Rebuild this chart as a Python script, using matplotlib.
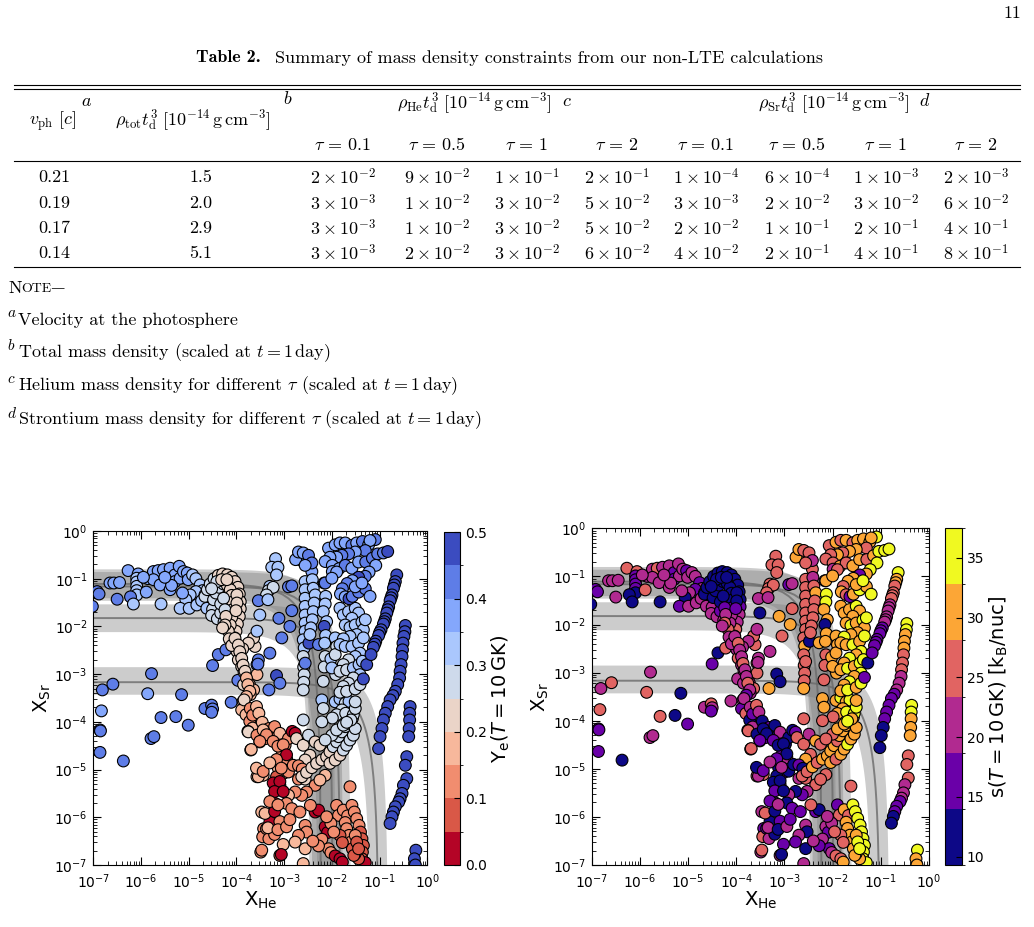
import numpy as np
import matplotlib
matplotlib.use("Agg")
import matplotlib.pyplot as plt
from matplotlib.colors import BoundaryNorm
from matplotlib.lines import Line2D
from matplotlib.ticker import LogLocator, NullFormatter

# ---------------- table data ----------------
vph = ["0.21", "0.19", "0.17", "0.14"]
rho_tot = ["1.5", "2.0", "2.9", "5.1"]
tau_vals = ["0.1", "0.5", "1", "2"]
rho_he_mant = [[2, 9, 1, 2], [3, 1, 3, 5], [3, 1, 3, 5], [3, 2, 3, 6]]
rho_he_exp = [[-2, -2, -1, -1], [-3, -2, -2, -2], [-3, -2, -2, -2], [-3, -2, -2, -2]]
rho_sr_mant = [[1, 6, 1, 2], [3, 2, 3, 6], [2, 1, 2, 4], [4, 2, 4, 8]]
rho_sr_exp = [[-4, -4, -3, -3], [-3, -2, -2, -2], [-2, -1, -1, -1], [-2, -1, -1, -1]]
notes = [("a", r"Velocity at the photosphere"),
         ("b", r"Total mass density (scaled at $t = 1\,{\rm day}$)"),
         ("c", r"Helium mass density for different $\tau$ (scaled at $t = 1\,{\rm day}$)"),
         ("d", r"Strontium mass density for different $\tau$ (scaled at $t = 1\,{\rm day}$)")]

# ---------------- constraint bands (X_Sr, X_He) ----------------
band_sr_lo = [3.7e-4, 7.6e-3, 3.45e-2, 3.9e-2]
band_sr_mid = [6.8e-4, 1.5e-2, 6.9e-2, 7.8e-2]
band_sr_hi = [1.4e-3, 2.9e-2, 1.38e-1, 1.57e-1]
band_he_lo = [0.063, 0.005, 0.0034, 0.0039]
band_he_mid = [0.095, 0.015, 0.0103, 0.0059]
band_he_hi = [0.15, 0.025, 0.017, 0.0118]

# ---------------- trajectories: (log X_He, log X_Sr, Ye, s) ----------------
traj_topleft = [
    (-6.92, -1.27, .42, 15), (-6.88, -1.32, .42, 15), (-7.02, -1.58, .42, 10), (-6.65, -1.09, .37, 20),
    (-6.57, -1.09, .37, 20), (-6.45, -1.08, .37, 20), (-6.50, -1.43, .42, 20), (-6.27, -0.83, .37, 25),
    (-6.06, -0.90, .38, 25), (-6.09, -0.99, .35, 15), (-6.09, -1.07, .35, 15), (-6.09, -1.16, .35, 15),
    (-6.09, -1.25, .35, 15), (-6.09, -1.34, .35, 10), (-6.22, -1.38, .40, 10), (-6.16, -1.53, .33, 10),
    (-5.85, -1.00, .37, 20), (-5.74, -0.85, .37, 20), (-5.64, -0.83, .37, 25), (-5.53, -0.81, .37, 20),
    (-5.74, -1.02, .37, 20), (-5.58, -1.53, .33, 10), (-5.60, -1.13, .37, 20), (-5.39, -1.23, .37, 20),
    (-5.39, -0.78, .37, 20), (-5.29, -0.92, .37, 15), (-5.20, -0.74, .36, 20), (-5.29, -1.06, .36, 15),
    (-5.18, -0.99, .36, 20), (-5.11, -0.85, .36, 20), (-5.03, -0.88, .36, 15), (-5.01, -1.02, .36, 20),
    (-4.92, -0.92, .35, 20), (-4.85, -1.00, .34, 20), (-4.76, -1.13, .33, 15), (-4.71, -1.25, .32, 20),
    (-4.85, -1.27, .34, 15), (-4.97, -1.34, .35, 20), (-5.06, -1.44, .35, 10), (-5.13, -1.30, .36, 20),
    (-5.18, -1.62, .35, 15), (-4.99, -1.62, .34, 20), (-4.83, -1.55, .33, 20), (-4.73, -1.46, .32, 20),
    (-4.62, -1.62, .31, 20), (-4.50, -1.64, .30, 20), (-4.52, -1.77, .30, 20), (-4.40, -1.84, .30, 20),
    (-4.33, -1.72, .30, 15), (-4.26, -1.91, .29, 20), (-4.66, -1.34, .30, 20), (-4.59, -1.23, .29, 20),
    (-5.36, -1.14, .37, 20), (-5.95, -0.97, .37, 20), (-5.50, -0.97, .36, 20), (-5.89, -1.28, .36, 25),
]
traj_hook = [
    (-4.66, -1.37, .28, 10), (-4.61, -1.23, .27, 10), (-4.55, -1.11, .26, 10), (-4.47, -1.00, .25, 10),
    (-4.38, -0.93, .24, 10), (-4.29, -0.90, .23, 10), (-4.19, -0.92, .23, 10), (-4.10, -0.97, .23, 10),
    (-4.03, -1.06, .23, 10), (-3.97, -1.18, .23, 10), (-3.94, -1.32, .22, 10), (-3.92, -1.48, .22, 10),
    (-3.92, -1.63, .22, 15), (-3.94, -1.79, .22, 20), (-3.98, -1.95, .22, 20), (-4.01, -2.10, .22, 25),
    (-4.04, -2.24, .22, 20), (-4.03, -2.38, .21, 25), (-3.99, -2.52, .20, 20),
    (-4.48, -1.44, .28, 10), (-4.43, -1.30, .27, 10), (-4.36, -1.18, .26, 10), (-4.27, -1.11, .25, 10),
    (-4.19, -1.14, .24, 10), (-4.13, -1.23, .24, 10), (-4.10, -1.35, .23, 10), (-4.08, -1.49, .23, 10),
    (-4.08, -1.65, .23, 15), (-4.10, -1.81, .23, 20), (-4.13, -1.97, .22, 20), (-4.17, -2.10, .22, 25),
    (-4.15, -2.26, .22, 20), (-4.10, -2.40, .21, 20),
    (-4.33, -1.53, .28, 10), (-4.27, -1.41, .27, 10), (-4.24, -1.65, .26, 15), (-4.22, -1.79, .24, 20),
    (-4.24, -1.97, .23, 25), (-4.29, -2.03, .24, 20),
    (-4.41, -1.06, .25, 10), (-4.31, -1.02, .24, 10), (-4.20, -1.02, .24, 10), (-4.52, -1.21, .27, 10),
    (-3.99, -1.34, .23, 10), (-3.99, -1.51, .23, 10), (-4.01, -1.67, .22, 15),
]
traj_descent = [
    (-3.96, -2.70, .22, 25), (-3.89, -2.84, .21, 20), (-3.84, -2.96, .20, 20), (-3.78, -3.08, .19, 25),
    (-3.73, -3.21, .18, 20), (-3.64, -3.33, .18, 25), (-3.71, -3.43, .17, 20), (-3.85, -3.22, .21, 20),
    (-3.57, -3.01, .18, 25), (-3.61, -2.42, .22, 25), (-3.64, -2.24, .23, 25), (-3.75, -2.35, .22, 20),
    (-3.87, -2.47, .21, 20), (-4.03, -2.25, .22, 20), (-3.96, -2.39, .22, 25), (-3.93, -2.53, .21, 20),
    (-3.89, -2.67, .21, 20), (-3.86, -2.81, .20, 25), (-3.82, -2.94, .20, 20), (-3.79, -3.08, .19, 20),
    (-3.76, -3.22, .19, 25), (-3.72, -3.36, .18, 20), (-3.79, -3.47, .17, 15), (-3.86, -3.57, .17, 20),
    (-3.89, -3.75, .16, 15), (-3.80, -3.85, .17, 25), (-3.72, -3.99, .15, 10), (-3.66, -4.13, .16, 20),
    (-3.76, -4.20, .20, 25), (-3.84, -3.54, .24, 20), (-3.75, -4.21, .23, 25), (-3.70, -4.59, .18, 25),
    (-3.57, -5.15, .18, 25), (-3.71, -3.72, .14, 20), (-3.66, -3.86, .13, 15), (-3.57, -4.28, .13, 10),
    (-3.47, -5.89, .19, 20), (-3.43, -6.24, .13, 15), (-3.45, -6.41, .13, 25), (-3.49, -6.73, .14, 20),
]
traj_scatter = [
    (-4.38, -2.59, .42, 10), (-4.22, -2.49, .42, 25), (-4.50, -2.82, .42, 15), (-5.78, -2.99, .42, 20),
    (-6.59, -3.21, .42, 25), (-6.81, -3.33, .42, 20), (-5.86, -3.41, .37, 25), (-5.15, -3.43, .42, 10),
    (-3.97, -3.13, .42, 20), (-3.57, -2.80, .42, 25), (-3.54, -2.70, .42, 20), (-6.83, -3.77, .38, 25),
    (-6.86, -4.17, .42, 15), (-6.85, -4.19, .42, 15), (-6.86, -4.64, .42, 15), (-6.37, -4.82, .42, 10),
    (-5.79, -4.35, .42, 20), (-5.73, -4.31, .42, 20), (-5.58, -3.91, .42, 25), (-5.27, -3.89, .42, 10),
    (-5.01, -4.07, .42, 15), (-4.66, -3.72, .42, 20), (-4.52, -3.65, .42, 25), (-4.50, -3.73, .42, 20),
    (-4.52, -3.80, .42, 15), (-4.11, -3.59, .42, 20),
]
traj_upper_right = [
    (-2.07, -0.36, .38, 25), (-1.93, -0.29, .38, 30), (-1.83, -0.25, .36, 25), (-1.72, -0.25, .38, 30),
    (-1.58, -0.30, .40, 25), (-1.48, -0.25, .36, 30), (-1.36, -0.22, .40, 30), (-1.23, -0.29, .38, 30),
    (-1.09, -0.18, .40, 35), (-1.20, -0.20, .36, 30), (-1.30, -0.41, .40, 25), (-1.51, -0.44, .38, 30),
    (-1.65, -0.48, .42, 30), (-1.79, -0.51, .40, 25), (-1.90, -0.55, .36, 30), (-2.04, -0.55, .38, 25),
    (-2.14, -0.64, .37, 25), (-1.99, -0.72, .37, 25), (-1.85, -0.79, .36, 30), (-1.72, -0.72, .40, 25),
    (-1.58, -0.78, .38, 30), (-1.44, -0.65, .36, 30), (-1.29, -0.65, .40, 25), (-1.15, -0.57, .40, 30),
    (-1.04, -0.48, .42, 35), (-0.92, -0.46, .44, 35), (-0.83, -0.43, .47, 35), (-1.08, -0.72, .38, 35),
    (-1.22, -0.86, .36, 35), (-1.30, -0.95, .40, 30), (-1.44, -0.97, .47, 15), (-1.57, -1.04, .38, 30),
    (-1.68, -1.10, .40, 30), (-1.78, -1.21, .40, 25), (-1.82, -1.32, .37, 30), (-1.72, -1.38, .38, 25),
    (-1.64, -1.42, .46, 15), (-1.57, -1.37, .40, 30), (-1.44, -1.28, .42, 35), (-1.30, -1.21, .40, 30),
    (-1.20, -1.37, .36, 35), (-1.51, -1.17, .36, 30), (-1.37, -1.09, .38, 35), (-1.99, -0.85, .37, 20),
    (-1.90, -0.86, .36, 25), (-2.14, -1.09, .42, 30), (-2.00, -0.99, .38, 30),
    (-2.67, -0.60, .38, 30), (-2.76, -0.60, .38, 30), (-2.70, -0.44, .38, 30), (-2.60, -0.46, .36, 25),
    (-2.49, -0.51, .40, 25), (-2.42, -0.67, .40, 20), (-2.56, -0.72, .38, 25),
]
traj_columns = [
    (-2.56, -1.06, .33, 25), (-2.56, -1.23, .33, 25), (-2.56, -1.41, .33, 25), (-2.56, -1.58, .33, 25),
    (-2.56, -1.76, .33, 25), (-2.56, -1.93, .33, 25), (-2.56, -2.10, .32, 25), (-2.60, -2.28, .32, 25),
    (-2.58, -2.45, .31, 30), (-2.60, -2.63, .30, 25), (-2.59, -2.85, .30, 25), (-2.58, -3.01, .30, 25),
    (-2.59, -3.17, .30, 25), (-2.60, -3.33, .30, 30), (-2.48, -2.35, .45, 10), (-2.28, -2.38, .42, 30),
    (-2.56, -2.77, .42, 25),
    (-2.42, -0.85, .36, 25), (-2.41, -1.02, .35, 20), (-2.39, -1.20, .35, 25), (-2.35, -1.34, .35, 30),
    (-2.37, -1.51, .34, 25), (-2.39, -1.69, .34, 25), (-2.41, -1.86, .34, 25), (-2.44, -2.03, .33, 25),
    (-2.46, -2.17, .33, 25),
    (-2.16, -1.09, .42, 15), (-2.13, -1.37, .34, 35), (-2.14, -1.53, .33, 35), (-2.18, -1.69, .33, 30),
    (-2.11, -1.90, .33, 30), (-2.16, -2.00, .47, 10), (-2.13, -2.19, .33, 30), (-2.15, -2.35, .32, 30),
    (-2.14, -2.63, .30, 25), (-2.16, -2.85, .30, 25), (-2.18, -3.15, .30, 25), (-2.02, -2.68, .31, 30),
    (-1.93, -2.24, .31, 30), (-1.90, -2.42, .30, 30), (-1.93, -2.59, .30, 30), (-1.92, -3.01, .30, 30),
    (-2.00, -2.87, .31, 30),
    (-1.83, -1.62, .34, 30), (-1.76, -1.76, .33, 30), (-1.65, -1.69, .34, 30), (-1.51, -1.62, .33, 35),
    (-1.44, -1.72, .34, 30), (-1.58, -1.83, .33, 30), (-1.72, -1.97, .33, 30), (-1.62, -2.02, .33, 35),
    (-1.51, -1.97, .34, 30), (-1.37, -1.91, .35, 35), (-1.34, -2.07, .34, 30), (-1.48, -2.17, .33, 30),
    (-1.62, -2.21, .32, 30), (-1.76, -2.26, .32, 35), (-1.83, -2.38, .31, 30), (-1.72, -2.42, .31, 30),
    (-1.58, -2.42, .32, 35), (-1.44, -2.35, .33, 30), (-1.34, -2.24, .34, 35), (-1.30, -1.86, .34, 35),
    (-1.41, -2.56, .31, 35), (-1.51, -2.63, .31, 30), (-1.65, -2.70, .30, 35), (-1.76, -2.80, .30, 30),
    (-1.83, -2.94, .30, 30), (-1.69, -2.91, .30, 35), (-1.55, -2.87, .31, 30), (-1.43, -2.80, .31, 35),
    (-1.36, -2.73, .32, 35), (-1.41, -3.01, .31, 35), (-1.55, -3.08, .30, 30), (-1.65, -3.19, .30, 35),
    (-1.76, -3.26, .30, 30), (-1.83, -3.38, .30, 30), (-1.69, -3.36, .30, 35), (-1.51, -3.31, .30, 30),
    (-1.41, -3.22, .30, 35), (-1.27, -2.80, .47, 10), (-1.34, -3.10, .47, 15),
    (-3.18, -0.58, .35, 25), (-3.26, -0.76, .35, 25), (-3.13, -0.76, .35, 25), (-3.16, -0.92, .35, 25),
    (-3.30, -1.16, .31, 25), (-3.33, -1.25, .30, 25), (-3.23, -1.18, .30, 25), (-3.37, -1.34, .30, 25),
    (-2.91, -1.17, .42, 15), (-2.84, -1.15, .42, 20), (-3.54, -1.46, .42, 20), (-3.34, -1.44, .33, 20),
    (-3.11, -1.83, .42, 30), (-3.51, -1.76, .32, 10), (-2.84, -1.67, .42, 25), (-2.88, -2.00, .42, 30),
    (-3.05, -2.24, .42, 25), (-3.30, -2.56, .42, 20), (-3.57, -2.10, .32, 20), (-3.55, -2.79, .42, 20),
    (-3.16, -3.03, .47, 10), (-3.09, -3.19, .42, 10), (-3.32, -3.33, .42, 30),
]
traj_streaks = [
    (-0.64, -0.92, .47, 35), (-0.67, -1.06, .47, 30), (-0.69, -1.13, .47, 30), (-0.71, -1.20, .47, 25),
    (-0.74, -1.34, .47, 25), (-0.76, -1.40, .47, 25), (-0.78, -1.46, .48, 25), (-0.81, -1.59, .48, 20),
    (-0.83, -1.65, .48, 20), (-0.85, -1.72, .48, 20), (-0.88, -1.84, .48, 20), (-0.90, -1.90, .48, 20),
    (-0.92, -1.95, .48, 20), (-0.97, -2.07, .48, 15), (-1.00, -2.13, .48, 15), (-1.02, -2.19, .48, 15),
    (-1.08, -2.31, .48, 15), (-1.10, -2.37, .48, 15), (-1.13, -2.44, .48, 15), (-1.18, -2.59, .48, 15),
    (-0.46, -1.98, .48, 35), (-0.47, -2.11, .48, 35), (-0.49, -2.21, .48, 30), (-0.51, -2.35, .48, 30),
    (-0.52, -2.49, .48, 30), (-0.53, -2.63, .48, 25), (-0.55, -2.80, .48, 25), (-0.57, -2.94, .48, 25),
    (-0.58, -3.08, .48, 20), (-0.62, -3.22, .48, 20), (-0.67, -3.36, .48, 20), (-0.72, -3.45, .48, 15),
    (-0.78, -3.54, .48, 15), (-0.83, -3.68, .48, 15), (-0.88, -3.82, .48, 15), (-0.92, -3.96, .48, 15),
    (-0.95, -4.14, .48, 10), (-0.99, -4.31, .48, 10), (-1.02, -4.56, .48, 10),
    (-0.36, -3.68, .49, 35), (-0.37, -3.82, .49, 35), (-0.37, -3.96, .49, 30), (-0.38, -4.14, .49, 30),
    (-0.39, -4.31, .49, 30),
    (-0.43, -4.73, .49, 25), (-0.46, -4.91, .49, 25), (-0.43, -5.19, .49, 25), (-0.50, -5.33, .49, 20),
    (-0.53, -5.50, .49, 20), (-0.57, -5.61, .49, 20), (-0.60, -5.68, .49, 15), (-0.67, -5.78, .49, 15),
    (-0.71, -5.89, .49, 15), (-0.74, -5.99, .49, 10), (-0.78, -6.13, .49, 10),
    (-0.24, -6.69, .49, 35), (-0.27, -6.87, .49, 30), (-0.25, -7.00, .49, 30),
]
traj_lower = [
    (-3.58, -3.68, .18, 25), (-3.53, -3.82, .17, 20), (-3.46, -4.01, .16, 10), (-3.32, -4.14, .15, 15),
    (-3.20, -4.10, .14, 10), (-3.51, -4.42, .15, 25), (-3.39, -4.35, .14, 15), (-3.19, -4.35, .13, 10),
    (-3.09, -4.24, .16, 20), (-2.98, -4.49, .14, 10), (-2.91, -4.35, .13, 10), (-2.83, -4.20, .02, 10),
    (-2.77, -4.24, .03, 15), (-2.74, -4.35, .24, 25), (-2.60, -4.49, .22, 25), (-2.60, -3.96, .25, 25),
    (-2.49, -4.28, .28, 20), (-2.35, -4.42, .23, 30), (-2.25, -4.49, .22, 25), (-2.46, -4.70, .22, 25),
    (-2.56, -4.80, .22, 30), (-3.05, -4.70, .15, 15), (-2.95, -4.77, .13, 20), (-3.12, -4.98, .18, 10),
    (-3.02, -5.08, .13, 15), (-2.91, -5.05, .12, 10), (-3.16, -5.15, .05, 10), (-3.09, -5.33, .04, 15),
    (-3.19, -5.71, .02, 15), (-3.30, -6.10, .02, 10), (-3.44, -5.12, .17, 25), (-3.54, -5.15, .18, 20),
    (-2.81, -4.91, .13, 10), (-2.70, -4.92, .13, 15), (-2.62, -4.99, .12, 10), (-2.70, -5.20, .13, 20),
    (-2.56, -5.20, .23, 25), (-2.35, -5.33, .14, 25), (-2.53, -5.47, .12, 20), (-2.63, -5.54, .12, 15),
    (-2.77, -5.47, .13, 10), (-2.91, -5.54, .17, 20), (-2.95, -5.71, .13, 10), (-2.84, -5.82, .12, 15),
    (-3.40, -5.92, .16, 25), (-3.37, -6.24, .15, 15), (-3.32, -6.45, .15, 20), (-3.20, -6.36, .14, 10),
    (-3.47, -6.69, .13, 25), (-3.09, -6.80, .05, 20), (-2.67, -5.89, .12, 15), (-2.56, -6.17, .12, 20),
    (-2.53, -6.31, .12, 10), (-2.70, -6.38, .13, 20), (-2.77, -6.52, .16, 15), (-2.56, -6.66, .17, 10),
    (-2.35, -5.89, .03, 15), (-2.28, -5.85, .03, 10), (-2.14, -6.20, .02, 20), (-2.09, -6.32, .02, 15),
    (-1.90, -5.75, .13, 15), (-1.86, -5.96, .12, 25), (-1.76, -5.85, .14, 30), (-1.67, -5.97, .13, 25),
    (-1.72, -6.11, .12, 30), (-2.21, -6.46, .12, 20), (-2.07, -6.66, .10, 15), (-2.02, -6.74, .10, 20),
    (-1.93, -6.81, .04, 25), (-1.83, -6.87, .04, 25), (-1.78, -6.94, .03, 30), (-2.28, -6.60, .13, 15),
    (-1.62, -5.36, .14, 25), (-1.58, -5.75, .12, 35), (-1.53, -5.89, .12, 35), (-1.48, -6.03, .11, 35),
    (-1.43, -6.17, .10, 35), (-1.40, -6.31, .09, 35), (-1.37, -6.45, .09, 35), (-1.34, -6.59, .08, 35),
    (-1.36, -6.73, .07, 35), (-1.37, -6.87, .06, 35), (-1.30, -6.95, .04, 35), (-1.44, -6.87, .06, 30),
    (-1.51, -6.76, .08, 30), (-1.69, -6.24, .12, 30), (-1.64, -6.38, .11, 30), (-1.60, -6.52, .10, 30),
    (-1.57, -6.66, .08, 30), (-1.54, -6.80, .07, 30), (-1.83, -6.38, .09, 25), (-1.78, -6.53, .07, 25),
    (-2.02, -6.13, .12, 20), (-1.96, -6.31, .11, 25), (-2.11, -5.99, .12, 20), (-1.51, -6.38, .10, 30),
    (-1.48, -6.52, .09, 35), (-1.44, -6.66, .08, 35), (-2.60, -6.97, .16, 20),
    (-3.44, -4.17, .16, 10), (-3.37, -4.27, .15, 10), (-3.23, -4.41, .13, 15), (-3.13, -4.51, .13, 10),
    (-3.02, -4.48, .14, 10), (-2.95, -4.69, .03, 10), (-3.16, -4.79, .12, 15), (-3.06, -4.97, .13, 20),
    (-3.51, -4.41, .13, 15), (-3.69, -4.58, .17, 25), (-3.58, -4.97, .18, 10), (-3.44, -5.04, .14, 15),
    (-3.30, -4.86, .16, 20), (-3.23, -5.28, .02, 10), (-3.09, -5.25, .02, 10), (-3.20, -5.46, .02, 15),
    (-3.02, -5.46, .03, 10), (-3.20, -5.88, .02, 10), (-3.30, -5.67, .13, 15), (-3.13, -5.74, .12, 20),
    (-3.09, -6.09, .13, 15), (-3.34, -6.22, .18, 20), (-3.13, -6.26, .13, 10), (-3.02, -6.57, .17, 15),
    (-3.06, -6.78, .03, 10), (-2.95, -6.20, .12, 20), (-2.88, -6.05, .14, 15), (-2.45, -5.75, .12, 25),
    (-2.40, -6.50, .12, 20),
]
traj_bridge = [
    (-2.63, -5.15, .23, 25), (-2.53, -5.06, .22, 25), (-2.42, -4.96, .23, 30), (-2.32, -4.87, .23, 25),
    (-2.21, -4.80, .24, 30), (-2.11, -4.73, .24, 30), (-2.04, -4.63, .24, 30), (-1.97, -4.52, .25, 30),
    (-1.90, -4.42, .25, 25), (-1.86, -4.31, .25, 30), (-1.79, -4.21, .26, 30), (-1.72, -4.10, .26, 30),
    (-1.64, -4.03, .27, 35), (-1.57, -3.93, .27, 30), (-2.04, -4.87, .23, 30), (-1.93, -4.80, .24, 25),
    (-1.83, -4.70, .24, 30), (-1.76, -4.59, .25, 30), (-1.69, -4.49, .25, 35), (-1.62, -4.38, .26, 30),
    (-1.55, -4.28, .26, 30), (-1.51, -4.14, .27, 30), (-2.00, -4.28, .25, 25), (-1.90, -4.17, .26, 30),
    (-1.76, -4.07, .27, 30), (-1.65, -3.96, .28, 30), (-2.14, -5.12, .18, 25), (-2.25, -5.22, .17, 25),
    (-2.21, -3.54, .31, 30), (-1.93, -3.58, .31, 30), (-1.83, -3.52, .31, 35), (-1.72, -3.61, .30, 30),
    (-1.64, -3.57, .31, 35), (-1.79, -3.75, .29, 30), (-1.90, -3.85, .28, 30), (-1.99, -3.92, .28, 25),
    (-1.71, -3.82, .29, 35), (-1.55, -3.85, .29, 35), (-1.60, -3.96, .28, 30), (-1.69, -4.01, .28, 35),
    (-1.51, -3.72, .30, 35), (-1.51, -3.58, .30, 30), (-2.18, -3.72, .28, 30), (-2.21, -4.00, .27, 25),
    (-2.14, -4.38, .30, 25),
]
groups = [traj_topleft, traj_scatter, traj_hook, traj_descent, traj_lower, traj_bridge,
          traj_columns, traj_upper_right, traj_streaks]
pts = np.array([p for g in groups for p in g], dtype=float)
x_he = 10.0 ** pts[:, 0]
x_sr = 10.0 ** pts[:, 1]
ye = pts[:, 2]
entropy = pts[:, 3]

# ---------------- figure ----------------
W, H = 1034, 927
fig = plt.figure(figsize=(W / 100, H / 100), dpi=100)
SERIF = ["cmr10", "DejaVu Serif"]


def T(px, py, s, size=13, ha="center", va="center", family=SERIF, **kw):
    fig.text(px / W, 1 - py / H, s, fontsize=size, ha=ha, va=va, family=family,
             math_fontfamily="cm", **kw)


def hline(py, x0=14, x1=1020, lw=0.8):
    fig.add_artist(Line2D([x0 / W, x1 / W], [1 - py / H, 1 - py / H],
                          transform=fig.transFigure, color="black", lw=lw))


T(1021, 13, "11", ha="right")
T(196, 58, "Table 2.", ha="left", family=["cmb10", "DejaVu Serif"])
T(275, 58, "Summary of mass density constraints from our non-LTE calculations", ha="left")
hline(85)
hline(89)
hline(161)
hline(267)

T(52, 121, r"$v_{\rm ph}\ [c]$")
T(86, 101, r"$a$")
T(193, 120, r"$\rho_{\rm tot}t_{\rm d}^{3}\ [10^{-14}\,{\rm g\,cm^{-3}}]$")
T(288, 99, r"$b$")
T(474, 103, r"$\rho_{\rm He}t_{\rm d}^{3}\ [10^{-14}\,{\rm g\,cm^{-3}}]$")
T(567, 101, r"$c$")
T(834, 103, r"$\rho_{\rm Sr}t_{\rm d}^{3}\ [10^{-14}\,{\rm g\,cm^{-3}}]$")
T(925, 100, r"$d$")

col_x = [343, 437, 527, 617, 706, 797, 886, 976]
row_y = [177, 203, 228, 253]
for j in range(8):
    T(col_x[j], 145, r"$\tau\,=\,%s$" % tau_vals[j % 4])
for i in range(4):
    T(54, row_y[i], vph[i])
    T(201, row_y[i], rho_tot[i])
    for j in range(4):
        T(col_x[j], row_y[i], r"$%d\times10^{%d}$" % (rho_he_mant[i][j], rho_he_exp[i][j]))
        T(col_x[j + 4], row_y[i], r"$%d\times10^{%d}$" % (rho_sr_mant[i][j], rho_sr_exp[i][j]))

T(8, 288, "N", ha="left")
T(21, 289, "OTE\u2014", ha="left", size=10)
note_y = [320, 353, 386, 420]
for (lab, txt), y in zip(notes, note_y):
    T(7, y - 7, r"$%s$" % lab, ha="left", size=11)
    T(18, y, txt, ha="left")

# ---------------- panels ----------------
ax1 = fig.add_axes([93.3 / W, 1 - 865 / H, 334 / W, 334 / H])
ax2 = fig.add_axes([591.7 / W, 1 - 865 / H, 337.3 / W, 336.7 / H])
cax1 = fig.add_axes([443.5 / W, 1 - 865 / H, 16.5 / W, 333 / H])
cax2 = fig.add_axes([945 / W, 1 - 865 / H, 17 / W, 337 / H])

CURVE_K = 3.0


def lcurve(x0, y0):
    u = np.logspace(-7, np.log10(0.9), 250)
    x = np.concatenate([np.logspace(-9, np.log10(0.1 * x0), 200), (x0 * (1 - u))[::-1]])
    y = y0 * np.clip(1 - x / x0, 1e-30, None) ** CURVE_K
    return x, y


cmap1 = plt.get_cmap("coolwarm_r")
norm1 = BoundaryNorm(np.linspace(0, 0.5, 11), cmap1.N)
cmap2 = plt.get_cmap("plasma")
norm2 = BoundaryNorm(np.linspace(9.3, 37.5, 7), cmap2.N)

scs = []
for ax, cval, cmap, norm in [(ax1, ye, cmap1, norm1), (ax2, entropy, cmap2, norm2)]:
    ax.set_xscale("log")
    ax.set_yscale("log")
    for k in range(4):
        xu, yu = lcurve(band_he_hi[k], band_sr_hi[k])
        xl, yl = lcurve(band_he_lo[k], band_sr_lo[k])
        ax.fill(np.r_[xu, xl[::-1]], np.r_[yu, yl[::-1]], color="0.5", alpha=0.4, lw=0, zorder=1)
        xc, yc = lcurve(band_he_mid[k], band_sr_mid[k])
        ax.plot(xc, yc, color="0.42", lw=1.4, alpha=0.8, zorder=2)
    sc = ax.scatter(x_he, x_sr, c=cval, cmap=cmap, norm=norm, s=72, edgecolors="black",
                    linewidths=0.8, zorder=3)
    scs.append(sc)
    ax.set_xlim(1e-7, 1)
    ax.set_ylim(1e-7, 1)
    for axis in (ax.xaxis, ax.yaxis):
        axis.set_major_locator(LogLocator(base=10, numticks=20))
        axis.set_minor_locator(LogLocator(base=10, subs=np.arange(2, 10), numticks=20))
        axis.set_minor_formatter(NullFormatter())
    ax.tick_params(which="both", direction="in", top=True, right=True, labelsize=10)
    ax.tick_params(which="major", length=6)
    ax.tick_params(which="minor", length=3)
    ax.tick_params(axis="x", pad=5.5)
    ax.tick_params(axis="y", pad=4)
    ax.set_xlabel(r"X$_{\rm He}$", fontsize=14, labelpad=-1)
    ax.set_ylabel(r"X$_{\rm Sr}$", fontsize=14, labelpad=1)

cb1 = fig.colorbar(scs[0], cax=cax1, ticks=[0, 0.1, 0.2, 0.3, 0.4, 0.5])
cb1.ax.tick_params(direction="in", labelsize=10, length=4)
cb1.set_label(r"Y$_{\rm e}$($T = 10\,$GK)", fontsize=14, labelpad=2)
cb2 = fig.colorbar(scs[1], cax=cax2, ticks=[10, 15, 20, 25, 30, 35])
cb2.ax.tick_params(direction="in", labelsize=10, length=4)
cb2.set_label(r"s($T = 10\,$GK) [k$_{\rm B}$/nuc]", fontsize=14, labelpad=2)

fig.savefig("out.png", dpi=100)
